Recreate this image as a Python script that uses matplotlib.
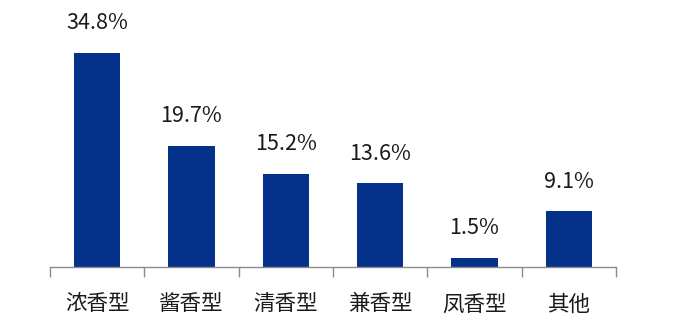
import numpy as np
import matplotlib.pyplot as plt

plt.rcParams['font.family'] = ['Noto Sans CJK SC', 'DejaVu Sans']

# 数据
categories = ['浓香型', '酱香型', '清香型', '兼香型', '凤香型', '其他']
shares = [34.8, 19.7, 15.2, 13.6, 1.5, 9.1]

fig = plt.figure(figsize=(6.75, 3.21), dpi=100)
ax = fig.add_axes([0.074, 0.168, 0.8386, 0.832])

x = np.arange(len(categories))
ax.bar(x, shares, width=0.49, color='#04318a')

for xi, v in zip(x, shares):
    ax.text(xi, v + 3.0, f'{v}%', ha='center', va='bottom', fontsize=15.5,
            color='#1a1a1a', fontweight='light')

ax.set_xlim(-0.5, len(categories) - 0.5)
ax.set_ylim(0, 43.4)

# 分隔刻度
ax.set_xticks(np.arange(-0.5, len(categories), 1))
ax.set_xticklabels([])
ax.tick_params(axis='x', which='major', length=7, width=1, color='#8c8c8c', direction='out')
ax.set_xticks(x, minor=True)
ax.set_xticklabels(categories, minor=True, fontsize=15.5, color='#1a1a1a', fontweight='light')
ax.tick_params(axis='x', which='minor', length=0, pad=19)

ax.set_yticks([])
for s in ['top', 'right', 'left']:
    ax.spines[s].set_visible(False)
ax.spines['bottom'].set_color('#8c8c8c')
ax.spines['bottom'].set_linewidth(1)

fig.savefig('out.png', dpi=100)
